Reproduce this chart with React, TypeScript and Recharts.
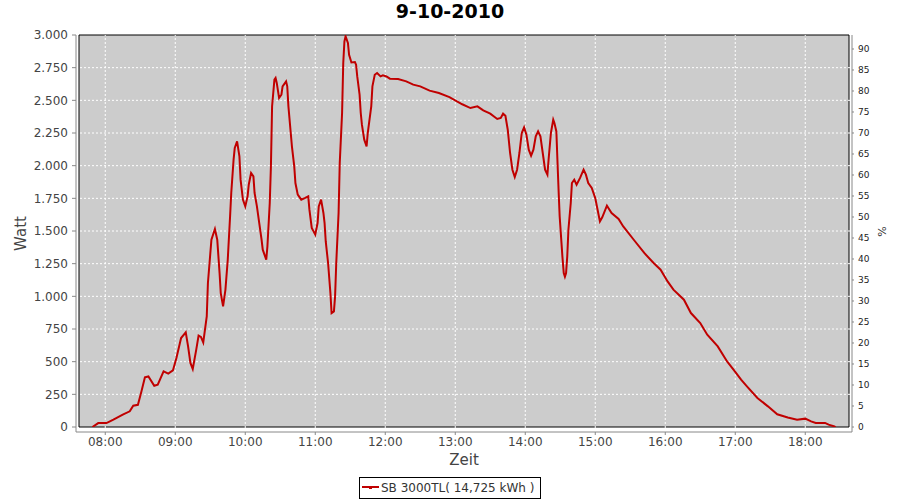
import { LineChart, Line, XAxis, YAxis, ReferenceArea, ReferenceLine, Legend } from "recharts";

const TITLE = "9-10-2010";
const SERIES_NAME = "SB 3000TL( 14,725 kWh )";

// Messzeitpunkte und Leistung (W)
const times = [
  "07:49", "07:54", "08:01", "08:04", "08:07", "08:15", "08:21", "08:24", "08:28", "08:31",
  "08:34", "08:37", "08:42", "08:45", "08:50", "08:54", "08:58", "09:01", "09:05", "09:09",
  "09:11", "09:13", "09:15", "09:18", "09:20", "09:22", "09:24", "09:27", "09:28", "09:31",
  "09:34", "09:36", "09:38", "09:39", "09:41", "09:43", "09:45", "09:47", "09:48", "09:50",
  "09:51", "09:53", "09:55", "09:56", "09:58", "10:00", "10:02", "10:03", "10:05", "10:07",
  "10:08", "10:10", "10:12", "10:14", "10:15", "10:18", "10:19", "10:21", "10:22", "10:23",
  "10:25", "10:26", "10:27", "10:29", "10:31", "10:32", "10:35", "10:36", "10:37", "10:39",
  "10:40", "10:42", "10:43", "10:45", "10:48", "10:51", "10:54", "10:55", "10:57", "11:00",
  "11:02", "11:03", "11:05", "11:07", "11:08", "11:09", "11:11", "11:13", "11:14", "11:16",
  "11:17", "11:18", "11:20", "11:21", "11:23", "11:24", "11:25", "11:26", "11:28", "11:29",
  "11:31", "11:34", "11:35", "11:36", "11:38", "11:39", "11:40", "11:42", "11:44", "11:45",
  "11:48", "11:49", "11:51", "11:53", "11:56", "11:58", "12:01", "12:04", "12:11", "12:18",
  "12:24", "12:30", "12:38", "12:46", "12:55", "13:06", "13:13", "13:19", "13:24", "13:30",
  "13:36", "13:39", "13:41", "13:43", "13:45", "13:47", "13:49", "13:51", "13:53", "13:55",
  "13:57", "13:59", "14:01", "14:03", "14:05", "14:07", "14:09", "14:11", "14:13", "14:15",
  "14:17", "14:19", "14:20", "14:22", "14:24", "14:25", "14:26:40", "14:27:50", "14:28:40", "14:29:30",
  "14:30:40", "14:31:50", "14:33", "14:34", "14:35", "14:36", "14:37", "14:39", "14:40", "14:42",
  "14:44", "14:47", "14:50", "14:52", "14:54", "14:57", "15:00", "15:02", "15:04", "15:06",
  "15:10", "15:14", "15:20", "15:24", "15:33", "15:42", "15:50", "15:56", "16:02", "16:07",
  "16:16", "16:22", "16:30", "16:36", "16:45", "16:53", "16:59", "17:05", "17:10", "17:19",
  "17:28", "17:36", "17:45", "17:53", "18:00", "18:05", "18:09", "18:17", "18:20", "18:25",
  "18:26",
];

const watts = [
  0, 30, 30, 43, 56, 94, 120, 163, 170, 272,
  380, 387, 316, 324, 426, 408, 433, 528, 681, 724,
  617, 490, 444, 592, 699, 689, 647, 846, 1102, 1433,
  1515, 1433, 1178, 1025, 923, 1050, 1280, 1612, 1791, 2046,
  2135, 2186, 2071, 1893, 1740, 1688, 1765, 1854, 1944, 1918,
  1791, 1688, 1561, 1433, 1357, 1280, 1382, 1714, 1994, 2454,
  2658, 2671, 2633, 2518, 2543, 2607, 2645, 2607, 2454, 2250,
  2148, 1994, 1867, 1778, 1740, 1752, 1765, 1663, 1523, 1472,
  1561, 1688, 1740, 1638, 1560, 1420, 1255, 1025, 872, 885,
  1000, 1255, 1638, 2020, 2403, 2786, 2951, 2990, 2939, 2849,
  2790, 2793, 2773, 2683, 2543, 2403, 2314, 2199, 2148, 2250,
  2454, 2607, 2696, 2709, 2683, 2691, 2683, 2666, 2663, 2645,
  2620, 2607, 2574, 2556, 2525, 2470, 2441, 2454, 2423, 2398,
  2357, 2365, 2398, 2382, 2275, 2097, 1969, 1913, 1969, 2097,
  2250, 2293, 2237, 2122, 2076, 2122, 2224, 2262, 2224, 2097,
  1969, 1931, 2046, 2250, 2352, 2327, 2262, 1982, 1791, 1612,
  1459, 1306, 1178, 1150, 1178, 1306, 1510, 1714, 1867, 1893,
  1854, 1906, 1969, 1931, 1867, 1829, 1752, 1663, 1573, 1605,
  1694, 1638, 1592, 1535, 1433, 1332, 1255, 1204, 1114, 1051,
  974, 872, 796, 706, 617, 502, 434, 362, 311, 222,
  158, 97, 73, 56, 64, 43, 31, 31, 18, 5,
  0,
];

const hourTicks = ["08:00", "09:00", "10:00", "11:00", "12:00", "13:00", "14:00", "15:00", "16:00", "17:00", "18:00"];
const wattTicks = [0, 250, 500, 750, 1000, 1250, 1500, 1750, 2000, 2250, 2500, 2750, 3000];
const percentTicks = [0, 5, 10, 15, 20, 25, 30, 35, 40, 45, 50, 55, 60, 65, 70, 75, 80, 85, 90];
const X_RANGE = ["07:37:30", "18:37:30"];
const WATT_MAX = 3000;
const PERCENT_MAX = 93.33;

const toMin = (t: string) => {
  const [h, m, s] = t.split(":").map(Number);
  return h * 60 + m + (s || 0) / 60;
};
const fmtTime = (v: number) => {
  const h = Math.floor(v / 60);
  const m = Math.round(v - h * 60);
  return `${String(h).padStart(2, "0")}:${String(m).padStart(2, "0")}`;
};
const fmtWatt = (v: number) =>
  v >= 1000 ? `${Math.floor(v / 1000)}.${String(v % 1000).padStart(3, "0")}` : String(v);

const xMin = toMin(X_RANGE[0]);
const xMax = toMin(X_RANGE[1]);

const LegendBox = (props: any) => {
  const item = props.payload?.[0];
  if (!item) return null;
  return (
    <div
      style={{
        boxSizing: "border-box",
        width: 182,
        height: 22,
        border: "1px solid #000",
        background: "#fff",
        display: "flex",
        alignItems: "center",
        fontFamily: "DejaVu Sans",
        fontSize: 12,
        color: "#333",
        whiteSpace: "nowrap",
      }}
    >
      <svg width={20} height={8} style={{ marginLeft: 1 }}>
        <line x1={1} y1={3} x2={18} y2={3} stroke={item.color} strokeWidth={2} />
        <rect x={8} y={3} width={3} height={2} fill={item.color} />
      </svg>
      <span>{item.value}</span>
    </div>
  );
};

export default function App() {
  const data = times.map((t, i) => ({ t: toMin(t), w: watts[i] }));

  return (
    <div style={{ position: "absolute", left: 0, top: 0, width: 900, height: 500, background: "#fff", fontFamily: "DejaVu Sans" }}>
      <div style={{ position: "absolute", left: 0, top: 0, width: 900, textAlign: "center", fontWeight: "bold", fontSize: 19, color: "#000" }}>
        {TITLE}
      </div>
      <LineChart width={900} height={500} data={data} margin={{ top: 35, right: 8, bottom: 38, left: 16 }}>
        <XAxis
          dataKey="t"
          type="number"
          domain={[xMin, xMax]}
          allowDataOverflow
          ticks={hourTicks.map(toMin)}
          tickFormatter={fmtTime}
          padding={{ left: 3, right: 3 }}
          height={30}
          stroke="#888"
          tick={{ fill: "#444", fontSize: 12 }}
          tickSize={3}
          tickMargin={2}
          label={{
            content: (p: any) => (
              <text x={p.viewBox.x + p.viewBox.width / 2} y={p.viewBox.y + 33} textAnchor="middle" fontSize={15} fill="#444">
                Zeit
              </text>
            ),
          }}
        />
        <YAxis
          yAxisId="left"
          domain={[0, WATT_MAX]}
          allowDataOverflow
          ticks={wattTicks}
          tickFormatter={fmtWatt}
          width={60}
          padding={{ top: 0, bottom: 5 }}
          stroke="#888"
          tick={{ fill: "#444", fontSize: 12 }}
          tickSize={4}
          tickMargin={4}
          label={{
            content: (p: any) => {
              const x = p.viewBox.x + 5;
              const y = p.viewBox.y + p.viewBox.height / 2;
              return (
                <text x={x} y={y} transform={`rotate(-90, ${x}, ${y})`} textAnchor="middle" dominantBaseline="central" fontSize={15} fill="#444">
                  Watt
                </text>
              );
            },
          }}
        />
        <YAxis
          yAxisId="right"
          orientation="right"
          domain={[0, PERCENT_MAX]}
          allowDataOverflow
          ticks={percentTicks}
          width={40}
          padding={{ top: 0, bottom: 5 }}
          stroke="#888"
          tick={{ fill: "#222", fontSize: 9 }}
          tickSize={2}
          tickMargin={4}
          label={{
            content: (p: any) => {
              const x = p.viewBox.x + 30;
              const y = p.viewBox.y + p.viewBox.height / 2 - 2;
              return (
                <text x={x} y={y} transform={`rotate(-90, ${x}, ${y})`} textAnchor="middle" dominantBaseline="central" fontSize={11} fill="#333">
                  %
                </text>
              );
            },
          }}
        />
        <ReferenceArea
          yAxisId="left"
          x1={xMin}
          x2={xMax}
          y1={0}
          y2={WATT_MAX}
          fill="#cccccc"
          fillOpacity={1}
          stroke="#000"
          strokeWidth={1}
        />
        {wattTicks.slice(1, -1).map((v) => (
          <ReferenceLine key={`y${v}`} yAxisId="left" y={v} stroke="#fff" strokeDasharray="2 2" />
        ))}
        {hourTicks.map((h) => (
          <ReferenceLine key={`x${h}`} yAxisId="left" x={toMin(h)} stroke="#fff" strokeDasharray="2 2" />
        ))}
        <Line
          yAxisId="left"
          type="linear"
          dataKey="w"
          name={SERIES_NAME}
          stroke="#c00000"
          strokeWidth={2}
          dot={false}
          isAnimationActive={false}
        />
        <Legend
          layout="horizontal"
          align="center"
          verticalAlign="middle"
          wrapperStyle={{ left: 359, top: 477, width: 182, height: 22 }}
          content={LegendBox}
        />
      </LineChart>
    </div>
  );
}
